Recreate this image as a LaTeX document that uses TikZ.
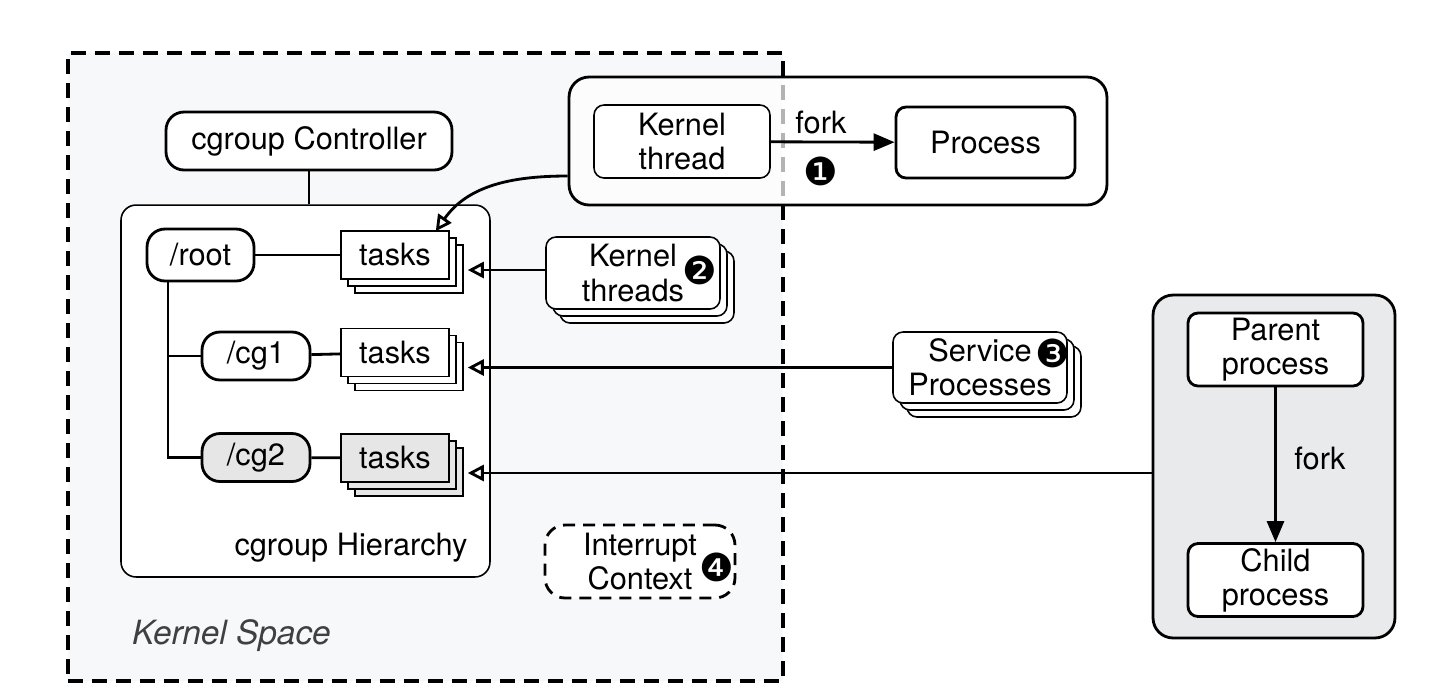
\documentclass[tikz,border=0pt]{standalone}
\usepackage{fontspec}
\setmainfont{TeX Gyre Heros}
\newfontfamily\dingfont{DejaVu Sans}
\usetikzlibrary{arrows.meta,shadows,calc}
\definecolor{kspacebg}{HTML}{F7F8FA}
\definecolor{userbg}{HTML}{E9EAEC}
\definecolor{cgtwo}{HTML}{E6E6E6}
\tikzset{
  box/.style={draw, fill=white, line width=1.6pt, align=center, inner sep=0pt},
  thinbox/.style={box, line width=0.9pt},
  stack/.style={thinbox, double copy shadow={shadow xshift=0.14cm, shadow yshift=-0.14cm}},
  num/.style={font=\dingfont\fontsize{22}{22}\selectfont, inner sep=0pt},
  link/.style={line width=1.6pt},
  feed/.style={line width=1.6pt, -{Triangle[open,length=0.32cm,width=0.32cm]}},
  forkarrow/.style={line width=1.6pt, -{Triangle[length=0.42cm,width=0.34cm]}},
}
\begin{document}
\begin{tikzpicture}[x=0.02cm,y=-0.02cm,font=\fontsize{17.5}{19.5}\selectfont]
\useasboundingbox (0,0) rectangle (1448,691);
%Kernel Space
	\node[draw, fill=kspacebg, line width=2pt, dash pattern=on 0.3cm off 0.18cm,
	  minimum width=14.3cm, minimum height=12.56cm, inner sep=0pt] (kspace) at (425.5,367) {};
	\node[anchor=west, font=\itshape\fontsize{19}{19}\selectfont, text=black!75] (kslbl) at (126,636) {Kernel Space};
%cgroup Controller und Hierarchie
	\node[box, rounded corners=0.36cm, minimum width=5.72cm, minimum height=1.16cm] (ctrl) at (309,141) {cgroup Controller};
	\node[thinbox, rounded corners=0.3cm, minimum width=7.38cm, minimum height=7.44cm] (hier) at (305.5,391) {};
	\node (hierlbl) at (351,548) {cgroup Hierarchy};
	\draw[link] (ctrl.south) -- (ctrl.south |- hier.north);
%cgroups
	\node[box, rounded corners=0.36cm, minimum width=2.14cm, minimum height=1.04cm] (root) at (200.5,255) {/root};
	\node[box, rounded corners=0.36cm, minimum width=2.16cm, minimum height=0.96cm] (cg1) at (256,356) {/cg1};
	\node[box, fill=cgtwo, rounded corners=0.36cm, minimum width=2.16cm, minimum height=0.96cm] (cg2) at (256,457.5) {/cg2};
%tasks
	\node[stack, minimum width=2.16cm, minimum height=0.96cm] (taskR) at (395,255) {tasks};
	\node[stack, minimum width=2.16cm, minimum height=0.96cm] (taskA) at (395,352.5) {tasks};
	\node[stack, fill=cgtwo, minimum width=2.16cm, minimum height=0.96cm] (taskB) at (395,458) {tasks};
	\coordinate (trunk) at (168,281);
	\draw[link] (root) -- (taskR);
	\draw[link] (trunk) |- (cg1.west);
	\draw[link] (trunk) |- (cg2.west);
	\draw[link] (cg1) -- (taskA);
	\draw[link] (cg2) -- (taskB);
%Kernel thread und fork
	\node[box, fill=white, fill opacity=0.7, draw opacity=1, rounded corners=0.4cm,
	  minimum width=10.76cm, minimum height=2.56cm] (kgroup) at (838,141) {};
	\node[thinbox, rounded corners=0.2cm, minimum width=3.52cm, minimum height=1.46cm] (kthread) at (682,141.5) {Kernel\\thread};
	\node[box, rounded corners=0.2cm, minimum width=3.58cm, minimum height=1.42cm] (proc) at (985.5,142.5) {Process};
	\draw[forkarrow] (kthread) -- (proc);
	\node (fork1) at (821,122) {fork};
	\node[num] (num1) at (821,171) {❶};
%weitere Quellen
	\node[stack, rounded corners=0.2cm, minimum width=3.48cm, minimum height=1.44cm] (kthreads) at (633,273) {Kernel\\threads};
	\node[num] (num2) at (700,270) {❷};
	\node[stack, rounded corners=0.2cm, minimum width=3.48cm, minimum height=1.42cm] (service) at (980,367.5) {Service\\Processes};
	\node[num] (num3) at (1053,353) {❸};
	\node[box, dash pattern=on 0.24cm off 0.16cm, rounded corners=0.4cm,
	  minimum width=3.8cm, minimum height=1.46cm] (irq) at (640,561.5) {Interrupt\\Context};
	\node[num] (num4) at (717,567) {❹};
%User Space
	\node[box, fill=userbg, rounded corners=0.4cm, minimum width=4.84cm, minimum height=6.86cm] (ubox) at (1274,466.5) {};
	\node[box, rounded corners=0.2cm, minimum width=3.5cm, minimum height=1.46cm] (parent) at (1275.5,349.5) {Parent\\process};
	\node[box, rounded corners=0.2cm, minimum width=3.5cm, minimum height=1.46cm] (child) at (1275.5,580) {Child\\process};
	\draw[forkarrow] (parent) -- (child);
	\node (fork2) at (1320,458) {fork};
%Pfeile zu den tasks
	\coordinate (inR) at ($(taskR.east)+(18,15)$);
	\coordinate (inA) at ($(taskA.east)+(18,15)$);
	\coordinate (inB) at ($(taskB.east)+(18,15)$);
	\coordinate (kgin) at ($(kgroup.west)+(0,35)$);
	\coordinate (kgout) at ($(taskR.north east)+(-14,1)$);
	\draw[feed] (kgin) to[out=180,in=55] (kgout);
	\draw[feed] (kthreads.west |- inR) -- (inR);
	\draw[feed] (service.west |- inA) -- (inA);
	\draw[feed] (ubox.west |- inB) -- (inB);
\end{tikzpicture}
\end{document}
